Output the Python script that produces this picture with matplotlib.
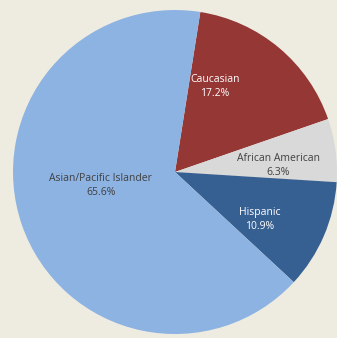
import numpy as np
import matplotlib.pyplot as plt

groups = ['Caucasian', 'African American', 'Hispanic', 'Asian/Pacific Islander']
shares = [17.2, 6.3, 10.9, 65.6]
colors = ['#953735', '#d9d9d9', '#376092', '#8db3e2']
text_colors = ['white', '#404040', 'white', '#404040']

# label placement: fraction of radius, angle shift in degrees from wedge middle
label_r = [0.58, 0.64, 0.60, 0.465]
label_shift = [15, -4, -6, -9]

fig = plt.figure(figsize=(3.37, 3.38), dpi=100)
fig.patch.set_facecolor('#eeece1')
ax = fig.add_axes([0.0386, 0.0118, 0.9614, 0.9586])
ax.set_facecolor('#eeece1')

wedges, _ = ax.pie(shares, colors=colors, startangle=81, counterclock=False,
                   radius=1, wedgeprops=dict(linewidth=0))

for w, name, val, tc, r, sh in zip(wedges, groups, shares, text_colors, label_r, label_shift):
    mid = np.deg2rad((w.theta1 + w.theta2) / 2 + sh)
    ax.text(r * np.cos(mid), r * np.sin(mid), f'{name}\n{val:.1f}%',
            ha='center', va='center', color=tc, fontsize=7.5,
            family='Open Sans', linespacing=1.35)

ax.set_xlim(-1, 1)
ax.set_ylim(-1, 1)
ax.set_aspect('auto')
ax.axis('off')

fig.savefig('out.png', dpi=100, facecolor=fig.get_facecolor())
